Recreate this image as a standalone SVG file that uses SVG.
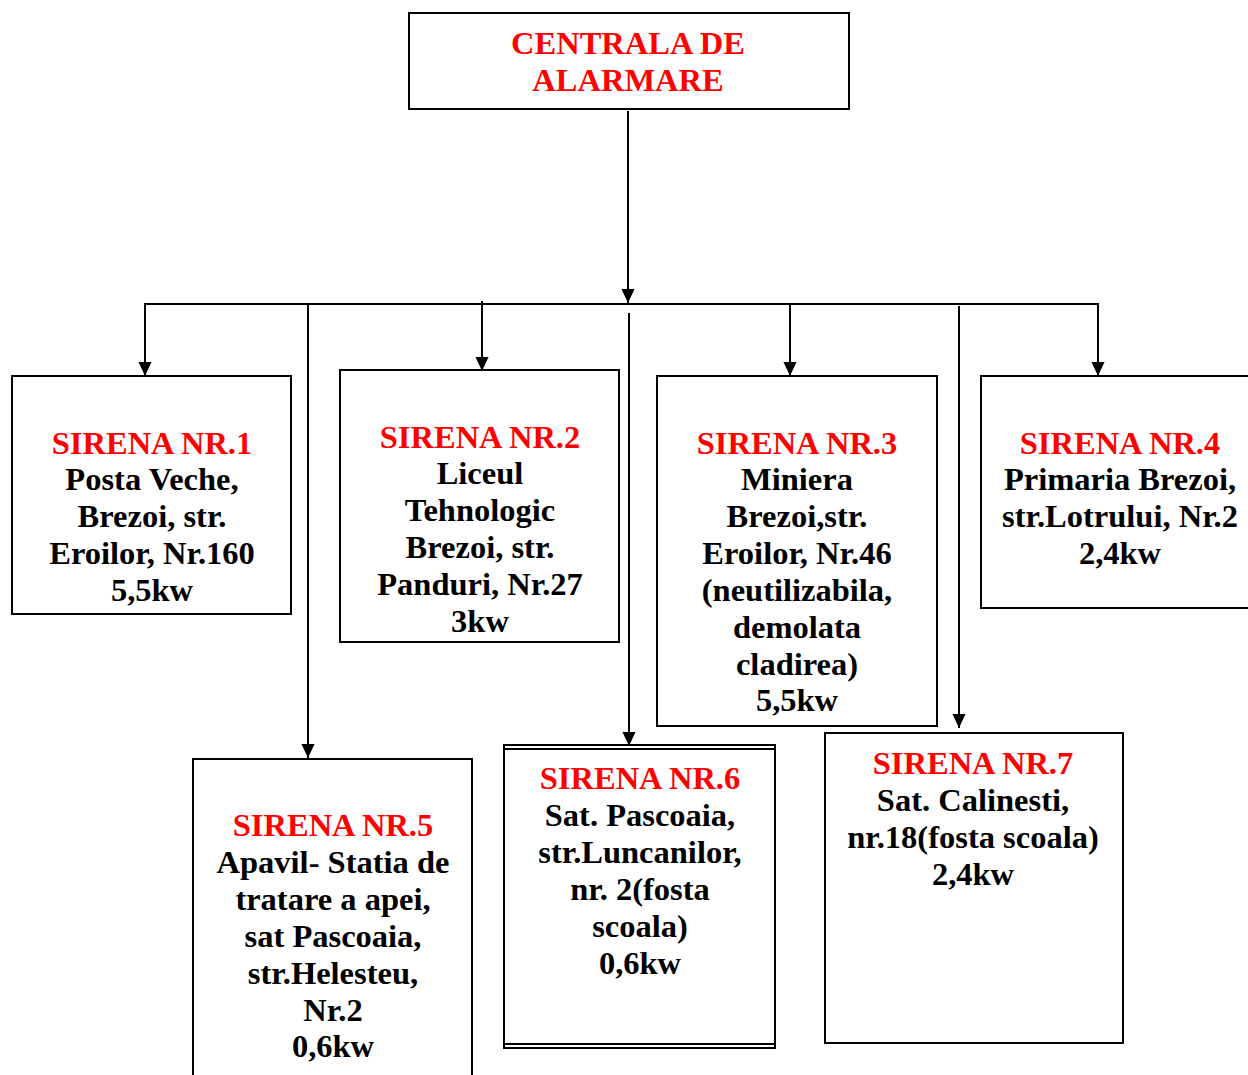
<svg xmlns="http://www.w3.org/2000/svg" width="1248" height="1075" viewBox="0 0 1248 1075">
<style>
.box{fill:#fff;stroke:#000;stroke-width:2}
.t{font-family:"Liberation Serif","Times New Roman",Times,serif;font-weight:bold;font-size:32.5px;text-anchor:middle;fill:#000}
.r{fill:#ff0000}
.c{stroke:#000;stroke-width:2;fill:none}
</style>
<defs>
<marker id="a" markerWidth="14" markerHeight="15" refX="15" refY="7" orient="auto" markerUnits="userSpaceOnUse" viewBox="0 0 15 14">
<path d="M0,0 L15,7 L0,14 Z" fill="#000"/>
</marker>
</defs>
<g id="connectors">
<line class="c" x1="628" y1="111" x2="628" y2="303" marker-end="url(#a)"/>
<line class="c" x1="144" y1="304" x2="1099" y2="304"/>
<line class="c" x1="145" y1="304" x2="145" y2="376" marker-end="url(#a)"/>
<line class="c" x1="308" y1="304" x2="308" y2="758" marker-end="url(#a)"/>
<line class="c" x1="482" y1="301" x2="482" y2="371" marker-end="url(#a)"/>
<line class="c" x1="629" y1="313" x2="629" y2="746" marker-end="url(#a)"/>
<line class="c" x1="790" y1="304" x2="790" y2="376" marker-end="url(#a)"/>
<line class="c" x1="959" y1="306" x2="959" y2="728" marker-end="url(#a)"/>
<line class="c" x1="1098" y1="304" x2="1098" y2="376" marker-end="url(#a)"/>
</g>
<g id="centrala">
<rect class="box" x="409" y="13" width="440" height="96"/>
<text class="t r" x="628" y="54">CENTRALA DE</text>
<text class="t r" x="628" y="91">ALARMARE</text>
</g>
<g id="sirena1">
<rect class="box" x="12" y="376" width="279" height="238"/>
<text class="t r" x="152" y="454">SIRENA NR.1</text>
<text class="t" x="152" y="490">Posta Veche,</text>
<text class="t" x="152" y="527">Brezoi, str.</text>
<text class="t" x="152" y="564">Eroilor, Nr.160</text>
<text class="t" x="152" y="601">5,5kw</text>
</g>
<g id="sirena2">
<rect class="box" x="340" y="370" width="279" height="272"/>
<text class="t r" x="480" y="448">SIRENA NR.2</text>
<text class="t" x="480" y="484">Liceul</text>
<text class="t" x="480" y="521">Tehnologic</text>
<text class="t" x="480" y="558">Brezoi, str.</text>
<text class="t" x="480" y="595">Panduri, Nr.27</text>
<text class="t" x="480" y="632">3kw</text>
</g>
<g id="sirena3">
<rect class="box" x="657" y="376" width="280" height="350"/>
<text class="t r" x="797" y="454">SIRENA NR.3</text>
<text class="t" x="797" y="490">Miniera</text>
<text class="t" x="797" y="527">Brezoi,str.</text>
<text class="t" x="797" y="564">Eroilor, Nr.46</text>
<text class="t" x="797" y="601">(neutilizabila,</text>
<text class="t" x="797" y="638">demolata</text>
<text class="t" x="797" y="675">cladirea)</text>
<text class="t" x="797" y="711">5,5kw</text>
</g>
<g id="sirena4">
<rect class="box" x="981" y="376" width="280" height="232"/>
<text class="t r" x="1120" y="454">SIRENA NR.4</text>
<text class="t" x="1120" y="490">Primaria Brezoi,</text>
<text class="t" x="1120" y="527">str.Lotrului, Nr.2</text>
<text class="t" x="1120" y="564">2,4kw</text>
</g>
<g id="sirena5">
<rect class="box" x="193" y="759" width="279" height="330"/>
<text class="t r" x="333" y="836">SIRENA NR.5</text>
<text class="t" x="333" y="873">Apavil- Statia de</text>
<text class="t" x="333" y="910">tratare a apei,</text>
<text class="t" x="333" y="947">sat Pascoaia,</text>
<text class="t" x="333" y="984">str.Helesteu,</text>
<text class="t" x="333" y="1021">Nr.2</text>
<text class="t" x="333" y="1057">0,6kw</text>
</g>
<g id="sirena6">
<rect class="box" x="504" y="745" width="271" height="303"/>
<line class="c" x1="504" y1="749" x2="775" y2="749"/>
<line class="c" x1="504" y1="1044" x2="775" y2="1044"/>
<text class="t r" x="640" y="789">SIRENA NR.6</text>
<text class="t" x="640" y="826">Sat. Pascoaia,</text>
<text class="t" x="640" y="863">str.Luncanilor,</text>
<text class="t" x="640" y="900">nr. 2(fosta</text>
<text class="t" x="640" y="937">scoala)</text>
<text class="t" x="640" y="974">0,6kw</text>
</g>
<g id="sirena7">
<rect class="box" x="825" y="733" width="298" height="310"/>
<text class="t r" x="973" y="774">SIRENA NR.7</text>
<text class="t" x="973" y="811">Sat. Calinesti,</text>
<text class="t" x="973" y="848">nr.18(fosta scoala)</text>
<text class="t" x="973" y="885">2,4kw</text>
</g>
</svg>
